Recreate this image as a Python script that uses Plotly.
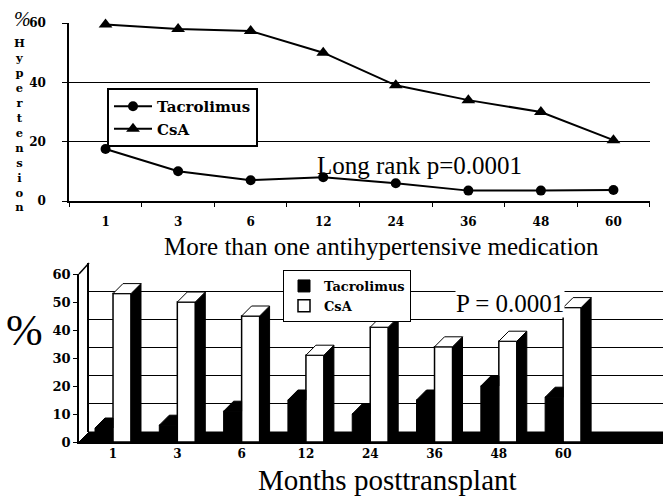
import plotly.graph_objects as go

# ---------------- data ----------------
months = ["1", "3", "6", "12", "24", "36", "48", "60"]
# top panel: % hypertension (line chart)
tac_htn = [17.5, 10, 7, 8, 6, 3.5, 3.5, 3.7]
csa_htn = [59.5, 58, 57.3, 50, 39, 34, 30, 20.5]
# bottom panel: more than one antihypertensive medication (3-D bars)
tac_multi = [5, 6, 11, 15, 10, 15, 20, 16]
csa_multi = [53, 50, 45, 31, 41, 34, 36, 48]
top_yticks = [0, 20, 40, 60]
bottom_yticks = [0, 10, 20, 30, 40, 50, 60]

W, H = 663, 497


def px(x):
    return x / W


def py(y):
    return 1 - y / H


SERIF = "Liberation Serif"
BOLD = "DejaVu Serif"

fig = go.Figure()

# ---------------- top panel ----------------
fig.add_trace(go.Scatter(
    x=months, y=tac_htn, name="Tacrolimus", mode="lines+markers",
    line=dict(color="black", width=2),
    marker=dict(symbol="circle", size=10, color="black"),
    xaxis="x", yaxis="y", legend="legend", cliponaxis=False))
fig.add_trace(go.Scatter(
    x=months, y=csa_htn, name="CsA", mode="lines+markers",
    line=dict(color="black", width=2),
    marker=dict(symbol="triangle-up", size=12, color="black"),
    xaxis="x", yaxis="y", legend="legend", cliponaxis=False))

# ---------------- bottom panel (3-D look) ----------------
idx = list(range(len(months)))
BW = 0.28   # front face width (category units)
DX = 0.155  # depth shift in x
DY = 3.57   # depth shift in y

fig.add_trace(go.Bar(
    x=idx, y=tac_multi, width=BW, offset=-BW, name="Tacrolimus",
    marker=dict(color="black", line=dict(color="black", width=1)),
    xaxis="x3", yaxis="y3", legend="legend2"))
fig.add_trace(go.Bar(
    x=idx, y=csa_multi, width=BW, offset=0, name="CsA",
    marker=dict(color="white", line=dict(color="black", width=1.5)),
    xaxis="x3", yaxis="y3", legend="legend2"))


def faces(vals, kind):
    xs, ys = [], []
    for i, v in zip(idx, vals):
        if kind == "tac_top":
            pts = [(i - BW, v), (i, v), (i, v + DY), (i - BW + DX, v + DY)]
        elif kind == "csa_side":
            pts = [(i + BW, 0), (i + BW + DX, DY), (i + BW + DX, v + DY), (i + BW, v)]
        else:
            pts = [(i, v), (i + BW, v), (i + BW + DX, v + DY), (i + DX, v + DY)]
        for p in pts + [pts[0]]:
            xs.append(p[0])
            ys.append(p[1])
        xs.append(None)
        ys.append(None)
    return xs, ys


for kind, vals, fillc in [("tac_top", tac_multi, "black"),
                          ("csa_side", csa_multi, "black"),
                          ("csa_top", csa_multi, "white")]:
    fx, fy = faces(vals, kind)
    fig.add_trace(go.Scatter(
        x=fx, y=fy, mode="lines", fill="toself", fillcolor=fillc,
        line=dict(color="black", width=1), showlegend=False,
        hoverinfo="skip", xaxis="x3", yaxis="y3"))

# back wall dummy trace (so the subplot renders)
fig.add_trace(go.Scatter(x=[0], y=[0], mode="markers", marker=dict(opacity=0),
                         showlegend=False, hoverinfo="skip", xaxis="x2", yaxis="y2"))

# ---------------- axes ----------------
tickfont = dict(family=BOLD, size=12, color="black", weight="bold")
fig.update_layout(
    width=W, height=H,
    margin=dict(l=0, r=0, t=0, b=0, autoexpand=False),
    paper_bgcolor="white", plot_bgcolor="rgba(0,0,0,0)",
    barmode="overlay",
    xaxis=dict(domain=[px(69), px(650)], type="category", categoryorder="array",
               categoryarray=months, showline=True, linecolor="black", linewidth=1.5,
               ticks="outside", tickson="boundaries", ticklen=4, tickcolor="black",
               showgrid=False, zeroline=False, tickfont=tickfont, automargin=False,
               ticklabelstandoff=9, anchor="y"),
    yaxis=dict(domain=[py(201), py(23)], range=[0, 60], tickvals=top_yticks,
               showline=True, linecolor="black", linewidth=1.5,
               ticks="outside", ticklen=5, tickcolor="black",
               showgrid=True, gridcolor="black", gridwidth=1, zeroline=False,
               tickfont=tickfont, ticklabelstandoff=14, automargin=False, anchor="x"),
    xaxis2=dict(domain=[px(89), 1.0], range=[0, 1], showgrid=False, showline=False,
                zeroline=False, showticklabels=False, ticks="", automargin=False,
                anchor="y2"),
    yaxis2=dict(domain=[py(432), py(263)], range=[0, 60], tickvals=bottom_yticks,
                showgrid=True, gridcolor="black", gridwidth=1, zeroline=False,
                showline=True, linecolor="black", linewidth=1.5,
                showticklabels=False, ticks="", automargin=False, anchor="x2"),
    xaxis3=dict(domain=[px(79), 1.0], range=[-0.529, 8.553], tickvals=idx,
                ticktext=months, showgrid=False, zeroline=False,
                showline=True, linecolor="black", linewidth=1.5, ticks="",
                tickfont=tickfont, ticklabelstandoff=0, automargin=False, anchor="y3"),
    yaxis3=dict(domain=[py(442), py(274)], range=[0, 60], tickvals=bottom_yticks,
                showgrid=False, zeroline=False, showline=True, linecolor="black",
                linewidth=1.5, ticks="outside", ticklen=4, tickcolor="black",
                tickfont=dict(family=BOLD, size=13, color="black", weight="bold"),
                automargin=False, anchor="x3"),
    legend=dict(x=px(107), y=py(88), xanchor="left", yanchor="top",
                bgcolor="white", bordercolor="black", borderwidth=2,
                font=dict(family=BOLD, size=15, color="black", weight="bold"),
                itemwidth=38, tracegroupgap=0),
    legend2=dict(x=px(283), y=py(270), xanchor="left", yanchor="top",
                 bgcolor="white", bordercolor="black", borderwidth=1,
                 font=dict(family=BOLD, size=13, color="black", weight="bold"),
                 tracegroupgap=0),
    showlegend=True,
)

# floor of the 3-D chart and slanted wall edge
fig.add_shape(type="path", xref="paper", yref="paper", layer="below",
              path=f"M {px(79)},{py(442)} L 1,{py(442)} L 1,{py(432)} L {px(89)},{py(432)} Z",
              fillcolor="black", line=dict(color="black", width=1))
fig.add_shape(type="line", xref="paper", yref="paper",
              x0=px(79), y0=py(274), x1=px(89), y1=py(263),
              line=dict(color="black", width=1.5))

# ---------------- text ----------------
ann = []


def add_text(text, x, y, size, family=SERIF, bg=None, yanchor="middle", **kw):
    d = dict(text=text, x=px(x), y=py(y), xref="paper", yref="paper",
             showarrow=False, xanchor="center", yanchor=yanchor,
             font=dict(family=family, size=size, color="black", **kw))
    if bg:
        d["bgcolor"] = bg
        d["borderpad"] = 0
    ann.append(d)


add_text("More than one antihypertensive medication", 382, 246, 25)
add_text("Long rank p=0.0001", 419, 166, 25)
# vertical axis label: "%" followed by stacked letters
add_text("%", 22, 19, 20, style="italic")
add_text("<br>".join("Hypertension"), 19, 34, 11.5, family=BOLD, yanchor="top",
         weight="bold")
add_text("%", 24, 330, 44)
add_text("Months posttransplant", 387, 462, 29, yanchor="top")
add_text("P = 0.0001", 510, 303, 25, bg="white")
fig.update_layout(annotations=ann)

fig.write_html("out.html", post_script="document.body.style.margin='0px';",
               config={"displayModeBar": False})
